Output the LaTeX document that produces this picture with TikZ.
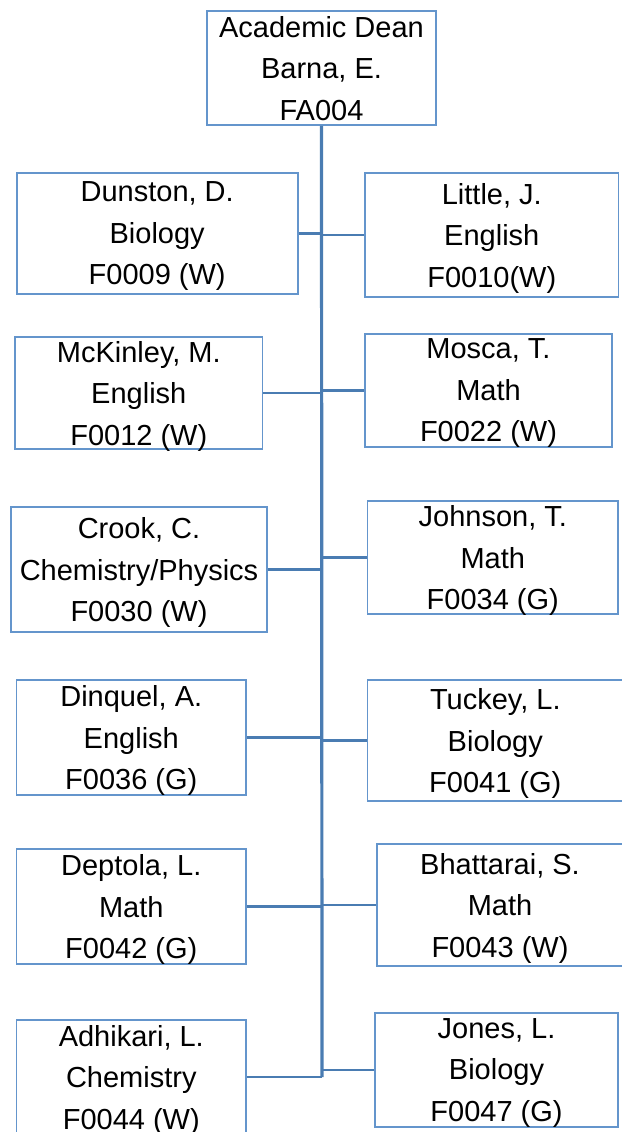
\documentclass[tikz,border=0pt]{standalone}
\usepackage{fontspec}
\setmainfont{Liberation Sans}
\usepackage{tikz}
\definecolor{boxline}{RGB}{100,149,204}
\definecolor{linkline}{RGB}{74,124,178}

\begin{document}
\begin{tikzpicture}[x=1pt, y=-1pt,
	every node/.style={font=\fontsize{29}{41.5}\selectfont},
	staff/.style={draw=boxline, line width=1.7pt, align=center, inner sep=0pt, text depth=0pt},
	link/.style={draw=linkline, line width=2.3pt},
	trunk/.style={draw=linkline, line width=3.2pt}]
	\useasboundingbox (0,0) rectangle (621,1132);
	\node[staff, minimum width=229pt, minimum height=114pt] (dean) at (321.5,68) {Academic Dean\\Barna, E.\\FA004};
	\coordinate (trunkend) at (322,1077);
	\node[staff, minimum width=281pt, minimum height=121pt] (dun) at (157.2,233.5) {Dunston, D.\\Biology\\F0009 (W)};
	\node[staff, minimum width=253.6pt, minimum height=124pt] (lit) at (491.8,235) {Little, J.\\English\\F0010(W)};
	\node[staff, minimum width=247.6pt, minimum height=112pt] (mck) at (138.8,393) {McKinley, M.\\English\\F0012 (W)};
	\node[staff, minimum width=247pt, minimum height=113pt] (mos) at (488.5,390.5) {Mosca, T.\\Math\\F0022 (W)};
	\node[staff, minimum width=256pt, minimum height=125pt] (crk) at (139,569.5) {Crook, C.\\Chemistry/Physics\\F0030 (W)};
	\node[staff, minimum width=250.5pt, minimum height=113pt] (joh) at (492.8,557.5) {Johnson, T.\\Math\\F0034 (G)};
	\node[staff, minimum width=229.4pt, minimum height=115pt] (din) at (131.3,737.5) {Dinquel, A.\\English\\F0036 (G)};
	\node[staff, minimum width=255.5pt, minimum height=121pt] (tuc) at (495.3,740.5) {Tuckey, L.\\Biology\\F0041 (G)};
	\node[staff, minimum width=229.4pt, minimum height=115pt] (dep) at (131.3,906.5) {Deptola, L.\\Math\\F0042 (G)};
	\node[staff, minimum width=246pt, minimum height=122pt] (bha) at (500,905) {Bhattarai, S.\\Math\\F0043 (W)};
	\node[staff, minimum width=229.4pt, minimum height=114pt] (adh) at (131.3,1077) {Adhikari, L.\\Chemistry\\F0044 (W)};
	\node[staff, minimum width=243pt, minimum height=114pt] (jon) at (496.5,1070) {Jones, L.\\Biology\\F0047 (G)};
	\draw[trunk] (dean.south) -- (trunkend);
	\draw[link] (dun.east) -- (dun.east -| trunkend);
	\draw[link] (lit.west) -- (lit.west -| trunkend);
	\draw[link] (mck.east) -- (mck.east -| trunkend);
	\draw[link] (mos.west) -- (mos.west -| trunkend);
	\draw[link] (crk.east) -- (crk.east -| trunkend);
	\draw[link] (joh.west) -- (joh.west -| trunkend);
	\draw[link] (din.east) -- (din.east -| trunkend);
	\draw[link] (tuc.west) -- (tuc.west -| trunkend);
	\draw[link] (dep.east) -- (dep.east -| trunkend);
	\draw[link] (bha.west) -- (bha.west -| trunkend);
	\draw[link] (adh.east) -- (trunkend);
	\draw[link] (jon.west) -- (jon.west -| trunkend);
\end{tikzpicture}
\end{document}
